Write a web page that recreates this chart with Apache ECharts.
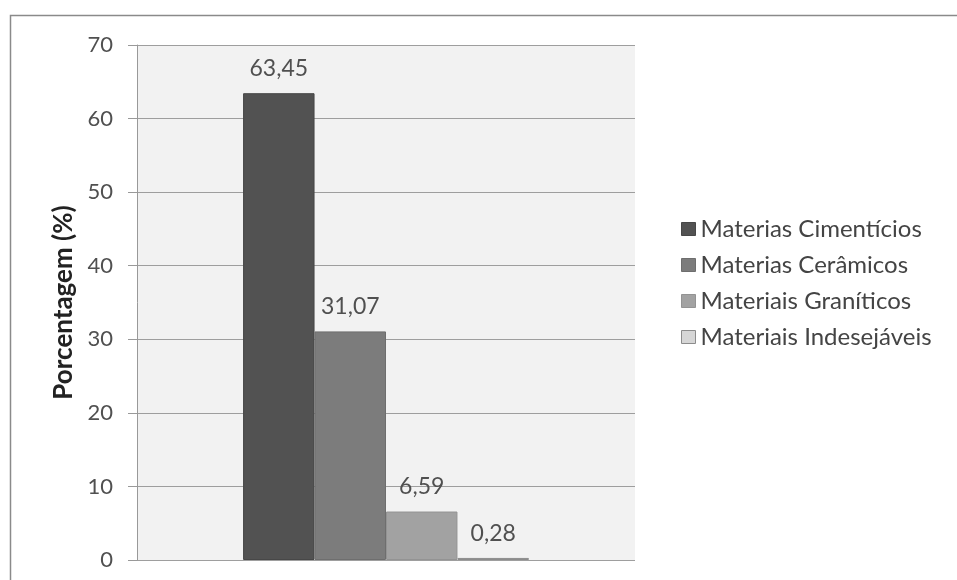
<!DOCTYPE html>
<html>
<head>
<meta charset="utf-8">
<script src="https://cdn.jsdelivr.net/npm/echarts@6/dist/echarts.min.js"></script>
<style>
  html, body { margin: 0; padding: 0; background: #fff; }
  #chart { width: 957px; height: 580px; }
</style>
</head>
<body>
<div id="chart"></div>
<script>
// Composition of the collected material (percent)
const categories = [''];
const seriesNames = ['Materias Cimentícios', 'Materias Cerâmicos', 'Materiais Graníticos', 'Materiais Indesejáveis'];
const seriesValues = [63.45, 31.07, 6.59, 0.28];
const yTicks = { min: 0, max: 70, interval: 10 };

const colors = ['#525252', '#7c7c7c', '#a2a2a2', '#d6d6d6'];
const borders = ['#474747', '#6e6e6e', '#939393', '#8c8c8c'];
const font = 'Lato, "Open Sans", sans-serif';

const chart = echarts.init(document.getElementById('chart'), null, { renderer: 'canvas' });

const series = seriesNames.map((name, i) => ({
  name: name,
  type: 'bar',
  data: [seriesValues[i]],
  barGap: '0%',
  barCategoryGap: '42.6%',
  itemStyle: { color: colors[i], borderColor: borders[i], borderWidth: 1 },
  label: {
    show: true,
    position: 'top',
    distance: 13,
    color: '#505050',
    fontFamily: font,
    fontSize: 23,
    formatter: p => String(p.value).replace('.', ',')
  }
}));

chart.setOption({
  backgroundColor: '#fff',
  animation: false,
  graphic: [{
    type: 'rect',
    shape: { x: 10.5, y: 15.5, width: 960, height: 600 },
    style: { fill: 'none', stroke: '#8a8a8a', lineWidth: 1.5 },
    silent: true
  }],
  grid: {
    left: 137, right: 322, top: 45, bottom: 20,
    show: true, backgroundColor: '#f2f2f2', borderWidth: 0
  },
  legend: {
    orient: 'vertical',
    left: 676,
    top: 212,
    itemWidth: 14,
    itemHeight: 13,
    itemGap: 12,
    icon: 'rect',
    textStyle: { color: '#444', fontFamily: font, fontSize: 24 },
    itemStyle: { borderWidth: 1 }
  },
  xAxis: {
    type: 'category',
    data: categories,
    axisLine: { show: false },
    axisTick: { show: false },
    axisLabel: { show: false }
  },
  yAxis: {
    type: 'value',
    min: yTicks.min, max: yTicks.max, interval: yTicks.interval,
    name: 'Porcentagem (%)',
    nameLocation: 'middle',
    nameGap: 60,
    nameTextStyle: { color: '#222', fontFamily: font, fontSize: 26, fontWeight: 'bold' },
    axisLine: { show: true, lineStyle: { color: '#999', width: 1 } },
    axisTick: { show: true, length: 9, lineStyle: { color: '#999' } },
    axisLabel: { color: '#505050', fontFamily: font, fontSize: 22, margin: 24 },
    splitLine: { show: true, lineStyle: { color: '#9e9e9e', width: 1 } }
  },
  series: series
});
</script>
</body>
</html>
